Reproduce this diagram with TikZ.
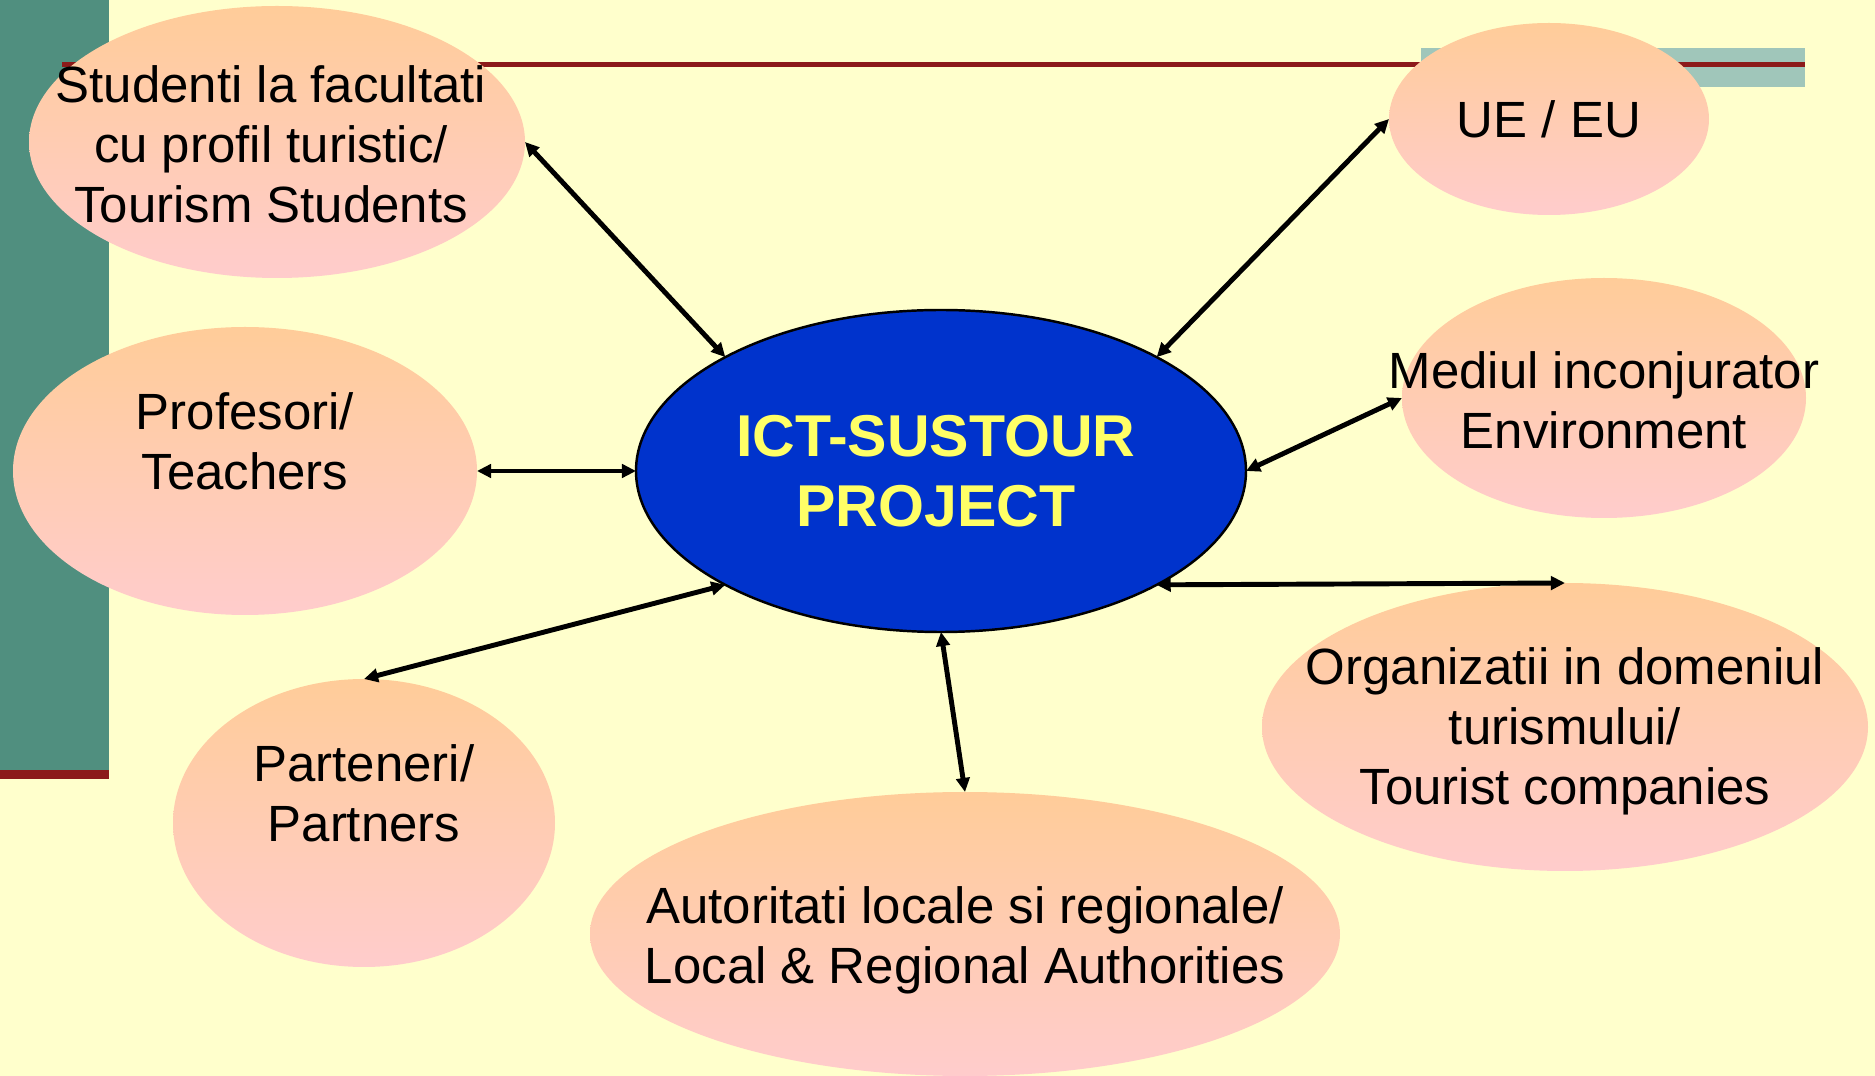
\documentclass[tikz,border=0pt]{standalone}
\usepackage{fontspec}
\setmainfont{Liberation Sans}
\usetikzlibrary{arrows.meta,shapes.geometric}
\definecolor{bgyellow}{HTML}{FFFFCC}
\definecolor{bargreen}{HTML}{508F7F}
\definecolor{barlight}{HTML}{A0C6BA}
\definecolor{barred}{HTML}{8C1A1A}
\definecolor{peach}{HTML}{FFCC99}
\definecolor{blush}{HTML}{FFCCCC}
\definecolor{projblue}{HTML}{0033CC}
\definecolor{projyellow}{HTML}{FFFF66}
\tikzset{
  blob/.style={ellipse, inner sep=0pt, outer sep=0pt, top color=peach, bottom color=blush, draw=none},
  txt/.style={align=center, font=\fontsize{14.5pt}{17.1pt}\selectfont},
  link/.style={{Triangle[length=4pt,width=3.8pt]}-{Triangle[length=4pt,width=3.8pt]}, line width=1.4pt}
}
\begin{document}
\begin{tikzpicture}
  \useasboundingbox (0,0) rectangle (18.75,10.76);
  \fill[bgyellow] (0,0) rectangle (18.75,10.76);
  \fill[bargreen] (0,3.06) rectangle (1.09,10.76);
  \fill[barred] (0,2.97) rectangle (1.09,3.06);
  \fill[barlight] (14.21,9.89) rectangle (18.05,10.28);
  \fill[barred] (0.62,10.09) rectangle (18.05,10.135);

  \node[blob, minimum width=4.96cm, minimum height=2.72cm] (stud) at (2.77,9.34) {};
  \node[blob, minimum width=4.64cm, minimum height=2.88cm] (prof) at (2.45,6.05) {};
  \node[blob, minimum width=3.82cm, minimum height=2.88cm] (part) at (3.64,2.53) {};
  \node[blob, minimum width=7.50cm, minimum height=2.84cm] (auth) at (9.65,1.42) {};
  \node[blob, minimum width=6.06cm, minimum height=2.88cm] (org) at (15.65,3.49) {};
  \node[blob, minimum width=4.04cm, minimum height=2.40cm] (env) at (16.04,6.78) {};
  \node[blob, minimum width=3.20cm, minimum height=1.92cm] (eu) at (15.49,9.57) {};
  \node[ellipse, draw, line width=0.7pt, fill=projblue, minimum width=6.10cm, minimum height=3.22cm, inner sep=0pt, outer sep=0pt] (proj) at (9.41,6.05) {};

  \draw[link] (stud.east) -- (proj.north west);
  \draw[link] (eu.west) -- (proj.north east);
  \draw[link] (prof.east) -- (proj.west);
  \draw[link] (env.west) -- (proj.east);
  \draw[link] (part.north) -- (proj.south west);
  \draw[link] (proj.south) -- (auth.north);
  \draw[link] (proj.south east) -- (org.north);

  \node[txt] (stud-t) at ([xshift=-0.06cm,yshift=-0.02cm]stud.center) {Studenti la facultati\\cu profil turistic/\\Tourism Students};
  \node[txt] (prof-t) at ([yshift=0.3cm]prof.center) {Profesori/\\Teachers};
  \node[txt] (part-t) at ([yshift=0.3cm]part.center) {Parteneri/\\Partners};
  \node[txt] (auth-t) at ([yshift=-0.06cm]auth.center) {Autoritati locale si regionale/\\Local \& Regional Authorities};
  \node[txt] (org-t) at ([yshift=-0.04cm]org.center) {Organizatii in domeniul\\turismului/\\Tourist companies};
  \node[txt] (env-t) at ([yshift=-0.02cm]env.center) {Mediul inconjurator\\Environment};
  \node[txt] (eu-t) at (eu.center) {UE / EU};
  \node[align=center, text=projyellow, font=\bfseries\fontsize{16.8pt}{19.9pt}\selectfont] (proj-t) at ([xshift=-0.05cm]proj.center) {ICT-SUSTOUR\\PROJECT};
\end{tikzpicture}
\end{document}
